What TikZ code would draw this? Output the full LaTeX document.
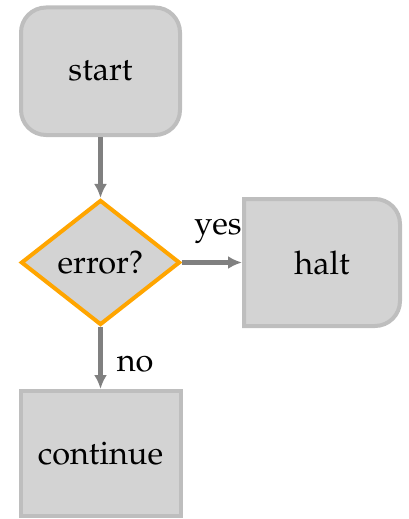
\documentclass[tikz,border=0pt]{standalone}
\usepackage[T1]{fontenc}
\usepackage{mathpazo}
\usetikzlibrary{shapes.geometric,arrows.meta,backgrounds}
\definecolor{boxfill}{HTML}{D3D3D3}
\definecolor{boxline}{HTML}{BEBEBE}
\definecolor{arrowgray}{HTML}{808080}
\definecolor{decorange}{HTML}{FFA500}
\begin{document}
\begin{tikzpicture}[x=1pt,y=-1pt,
  every node/.style={font=\fontsize{32.5}{39}\selectfont},
  box/.style={draw=boxline, fill=boxfill, line width=4pt, inner sep=0pt},
  decision/.style={diamond, draw=decorange, fill=boxfill, line width=4pt, inner sep=0pt, minimum width=159pt, minimum height=125pt},
  conn/.style={draw=arrowgray, line width=4.5pt, -{Latex[length=14pt,width=13pt]}},
  lbl/.style={inner sep=0pt, anchor=base}]
\useasboundingbox (0,0) rectangle (408,519);
\node[box, rounded corners=25pt, minimum width=159pt, minimum height=127.5pt] (start) at (100.5,71.25) {start};
\node[decision] (err) at (100.5,262.5) {error?};
\node[box, draw=none, fill=none, minimum width=156pt, minimum height=127pt] (halt) at (322,262.5) {halt};
\begin{scope}[on background layer]
\draw[box] (244,199) -- (375,199) .. controls (388.8,199) and (400,210.2) .. (400,224) -- (400,301) .. controls (400,314.8) and (388.8,326) .. (375,326) -- (244,326) -- cycle;
\end{scope}
\node[box, minimum width=160pt, minimum height=125pt] (cont) at (100.5,453.5) {continue};
\draw[conn] (start) -- (err);
\draw[conn] (err) -- node[lbl, pos=0.6, yshift=28pt] {yes} (halt);
\draw[conn] (err) -- node[lbl, pos=0.72, anchor=base west, xshift=14pt] {no} (cont);
\end{tikzpicture}
\end{document}
